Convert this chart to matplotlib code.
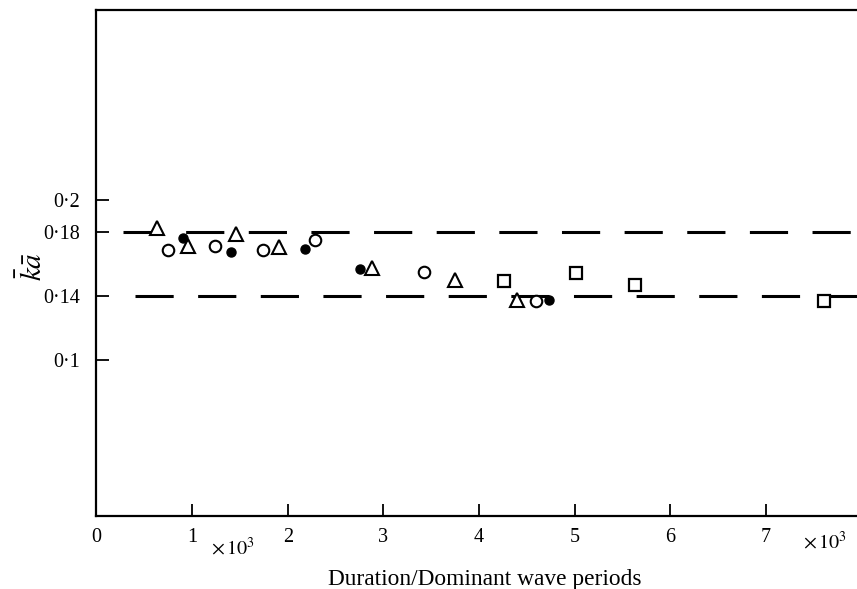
import numpy as np
import matplotlib
matplotlib.use("Agg")
import matplotlib.pyplot as plt

plt.rcParams["font.family"] = ["Liberation Serif", "DejaVu Serif"]
plt.rcParams["mathtext.fontset"] = "stix"

# Mean steepness against duration (in units of 10^3 dominant wave periods)
tri_x = [0.63, 0.96, 1.46, 1.91, 2.88, 3.75, 4.40]
tri_y = [0.1825, 0.171, 0.179, 0.1704, 0.1573, 0.150, 0.1375]

circ_x = [0.75, 1.24, 1.74, 2.28, 3.42, 4.59]
circ_y = [0.169, 0.171, 0.169, 0.175, 0.1552, 0.137]

dot_x = [0.90, 1.41, 2.18, 2.75, 4.73]
dot_y = [0.1764, 0.1677, 0.1694, 0.1567, 0.1375]

sq_x = [4.26, 5.01, 5.63, 7.60]
sq_y = [0.1494, 0.1546, 0.1469, 0.137]

# bounds of the steepness band
band_levels = [0.18, 0.14]
band_start = [0.28, 0.40]

yticks = [0.1, 0.14, 0.18, 0.2]
ytick_labels = ["0·1", "0·14", "0·18", "0·2"]
xticks = [0, 1, 2, 3, 4, 5, 6, 7]

fig = plt.figure(figsize=(8.57, 5.89), dpi=100)
ax = fig.add_axes([0.1126, 0.124, 0.8874, 0.859])

xmax = 7.95
for lev, x0 in zip(band_levels, band_start):
    ax.plot([x0, xmax], [lev, lev], color="black", lw=2.2,
            linestyle=(0, (12.5, 8.0)), solid_capstyle="butt", zorder=1)

ax.plot(tri_x, tri_y, "^", ms=9.5, mfc="white", mec="black", mew=1.5, zorder=3)
ax.plot(circ_x, circ_y, "o", ms=8.3, mfc="white", mec="black", mew=1.5, zorder=3)
ax.plot(dot_x, dot_y, "o", ms=6.5, mfc="black", mec="black", mew=1, zorder=4)
ax.plot(sq_x, sq_y, "s", ms=8, mfc="white", mec="black", mew=1.6, zorder=3)

ax.set_xlim(0, xmax)
ax.set_ylim(0.0025, 0.31875)

ax.set_xticks(xticks)
ax.set_xticklabels([str(t) for t in xticks])
ax.set_yticks(yticks)
ax.set_yticklabels(ytick_labels)

ax.tick_params(direction="in", length=9, width=1.3, labelsize=14.5)
ax.tick_params(axis="y", pad=12)
ax.tick_params(axis="x", pad=9)

ax.spines["right"].set_visible(False)
for s in ["left", "top", "bottom"]:
    ax.spines[s].set_linewidth(1.6)

fig.text(0.038, 0.548, r"$\bar{k}\bar{a}$", rotation=90, fontsize=21,
         ha="center", va="center")
fig.text(0.272, 0.069, r"$\times\,10^3$", fontsize=14.5, ha="center", va="center")
fig.text(0.963, 0.079, r"$\times\,10^3$", fontsize=14.5, ha="center", va="center")
fig.text(0.566, 0.016, "Duration/Dominant wave periods", fontsize=16.8,
         ha="center", va="center")

fig.savefig("out.png", dpi=100)
